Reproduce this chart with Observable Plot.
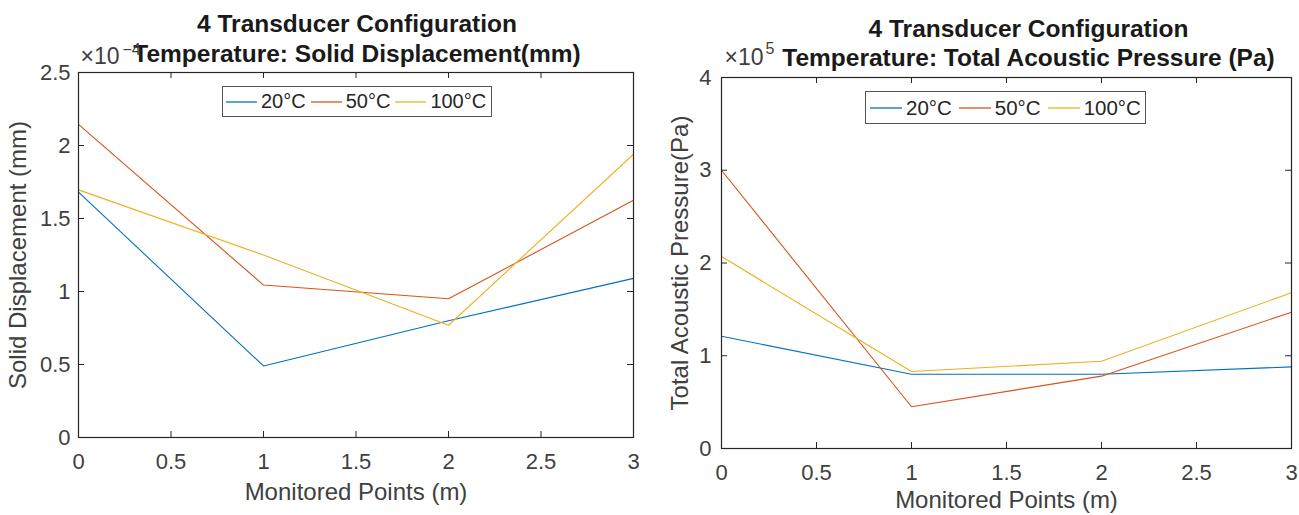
<!DOCTYPE html>
<html><head><meta charset="utf-8">
<script src="https://cdn.jsdelivr.net/npm/d3@7"></script>
<script src="https://cdn.jsdelivr.net/npm/@observablehq/plot@0.6"></script>
<style>
body{margin:0;background:#fff;}
#wrap{position:relative;width:1299px;height:515px;overflow:hidden;background:#fff;font-family:"Liberation Sans",Arial,Helvetica,sans-serif;}
.panel{position:absolute;top:0;}
.legend{position:absolute;display:flex;align-items:center;border:1px solid #555;background:#fff;color:#262626;box-sizing:border-box;white-space:nowrap;}
.legend svg{display:block;}
</style></head><body><div id="wrap"></div>
<script>
// ---- data ----
const monitoredPoints = [0, 1, 2, 3];
const temperatures = ["20°C", "50°C", "100°C"];
const seriesColors = ["#0072BD", "#D95319", "#EDB120"];

// Solid displacement (×10^-4 mm)
const disp20 = [1.68, 0.49, 0.80, 1.09];
const disp50 = [2.145, 1.044, 0.95, 1.625];
const disp100 = [1.696, 1.25, 0.769, 1.94];

// Total acoustic pressure (×10^5 Pa)
const pres20 = [1.21, 0.80, 0.80, 0.88];
const pres50 = [3.0, 0.45, 0.78, 1.47];
const pres100 = [2.07, 0.83, 0.94, 1.68];

const xTicks = [0, 0.5, 1, 1.5, 2, 2.5, 3];
const dispTicks = [0, 0.5, 1, 1.5, 2, 2.5];
const presTicks = [0, 1, 2, 3, 4];

function toRows(seriesList) {
  const rows = [];
  seriesList.forEach((vals, i) => vals.forEach((v, j) => rows.push({x: monitoredPoints[j], y: v, temp: temperatures[i]})));
  return rows;
}

const FONT = '"Liberation Sans",Arial,Helvetica,sans-serif';
const INK = "#262626";
const fmt = d => String(d);

function panel(cfg) {
  const fw = cfg.width - cfg.mL - cfg.mR;
  const fh = cfg.height - cfg.mT - cfg.mB;
  const t = 6;
  return Plot.plot({
    width: cfg.width, height: cfg.height,
    marginTop: cfg.mT, marginRight: cfg.mR, marginBottom: cfg.mB, marginLeft: cfg.mL,
    style: {fontFamily: FONT, color: INK, background: "white", overflow: "visible"},
    x: {domain: [0, 3], ticks: xTicks},
    y: {domain: cfg.yDomain, ticks: cfg.yTicks},
    color: {domain: temperatures, range: seriesColors},
    marks: [
      Plot.tickX(xTicks, {x: d => d, stroke: INK, strokeWidth: 1, insetTop: fh - t}),
      Plot.tickX(xTicks, {x: d => d, stroke: INK, strokeWidth: 1, insetBottom: fh - t}),
      Plot.tickY(cfg.yTicks, {y: d => d, stroke: INK, strokeWidth: 1, insetRight: fw - t}),
      Plot.tickY(cfg.yTicks, {y: d => d, stroke: INK, strokeWidth: 1, insetLeft: fw - t}),
      Plot.axisX({ticks: xTicks, tickFormat: fmt, tickSize: 0, tickPadding: cfg.xPad, fontSize: 22, label: null, fill: "#404040"}),
      Plot.axisY({ticks: cfg.yTicks, tickFormat: fmt, tickSize: 0, tickPadding: cfg.yPad, fontSize: 22, label: null, fill: "#404040"}),
      Plot.line(cfg.rows, {x: "x", y: "y", stroke: "temp", strokeWidth: 1.1}),
      Plot.frame({stroke: INK, strokeWidth: 1.2}),
      Plot.text([cfg.xLabel], {text: d => d, frameAnchor: "bottom", dy: cfg.xLabDy, lineAnchor: "middle", fontSize: 24, fill: "#404040"}),
      Plot.text([cfg.yLabel], {text: d => d, frameAnchor: "left", textAnchor: "middle", dx: cfg.yLabDx, rotate: -90, lineAnchor: "middle", fontSize: 24, fill: "#404040"}),
      Plot.text([cfg.title1], {text: d => d, frameAnchor: "top", dx: cfg.titleDx, dy: cfg.t1Dy, lineAnchor: "middle", fontSize: 24.5, fontWeight: "bold", fill: "#1a1a1a"}),
      Plot.text([cfg.title2], {text: d => d, frameAnchor: "top", dx: cfg.titleDx, dy: cfg.t2Dy, lineAnchor: "middle", fontSize: 24.5, fontWeight: "bold", fill: "#1a1a1a"}),
      Plot.text(["×10"], {text: d => d, frameAnchor: "top-left", textAnchor: "start", dx: cfg.expDx, dy: cfg.expDy, lineAnchor: "middle", fontSize: 23, fill: "#404040"}),
      Plot.text([cfg.expo], {text: d => d, frameAnchor: "top-left", textAnchor: "start", dx: cfg.supDx, dy: cfg.supDy, lineAnchor: "middle", fontSize: 16, fill: "#404040"})
    ]
  });
}

const wrap = document.getElementById("wrap");

const left = panel({
  width: 650, height: 515, mT: 72, mR: 17, mB: 78, mL: 78,
  yDomain: [0, 2.5], yTicks: dispTicks,
  rows: toRows([disp20, disp50, disp100]),
  xPad: 16, yPad: 8, xLabDy: 55, yLabDx: -60,
  xLabel: "Monitored Points (m)", yLabel: "Solid Displacement (mm)",
  title1: "4 Transducer Configuration", title2: "Temperature: Solid Displacement(mm)",
  titleDx: 1, t1Dy: -48, t2Dy: -18,
  expo: "−4", expDx: 2, expDy: -16, supDx: 44, supDy: -23
});
left.classList.add("panel"); left.style.left = "0px";
wrap.appendChild(left);

const right = panel({
  width: 649, height: 515, mT: 77, mR: 8, mB: 67, mL: 71,
  yDomain: [0, 4], yTicks: presTicks,
  rows: toRows([pres20, pres50, pres100]),
  xPad: 16, yPad: 10, xLabDy: 52, yLabDx: -41,
  xLabel: "Monitored Points (m)", yLabel: "Total Acoustic Pressure(Pa)",
  title1: "4 Transducer Configuration", title2: "Temperature: Total Acoustic Pressure (Pa)",
  titleDx: 22, t1Dy: -48, t2Dy: -19,
  expo: "5", expDx: 3, expDy: -20, supDx: 44, supDy: -29
});
right.classList.add("panel"); right.style.left = "650px";
wrap.appendChild(right);

const NS = "http://www.w3.org/2000/svg";
function legend(x, y, w, h, fs, swW, gapIn, gapOut, padL) {
  const div = document.createElement("div");
  div.className = "legend";
  Object.assign(div.style, {left: x + "px", top: y + "px", width: w + "px", height: h + "px", fontSize: fs + "px", paddingLeft: padL + "px"});
  temperatures.forEach((t, i) => {
    const sw = document.createElementNS(NS, "svg");
    sw.setAttribute("width", swW);
    sw.setAttribute("height", 6);
    sw.style.marginRight = gapIn + "px";
    const ln = document.createElementNS(NS, "line");
    ln.setAttribute("x1", 0); ln.setAttribute("x2", swW);
    ln.setAttribute("y1", 3); ln.setAttribute("y2", 3);
    ln.setAttribute("stroke", seriesColors[i]);
    ln.setAttribute("stroke-width", 1.3);
    sw.appendChild(ln);
    const tx = document.createElement("span");
    tx.textContent = t;
    if (i < temperatures.length - 1) tx.style.marginRight = gapOut + "px";
    div.appendChild(sw); div.appendChild(tx);
  });
  wrap.appendChild(div);
}
legend(222, 86, 270, 31, 20, 31, 4, 5, 3);
legend(865, 91, 281, 33, 20.5, 32, 4, 7, 4);
</script></body></html>
